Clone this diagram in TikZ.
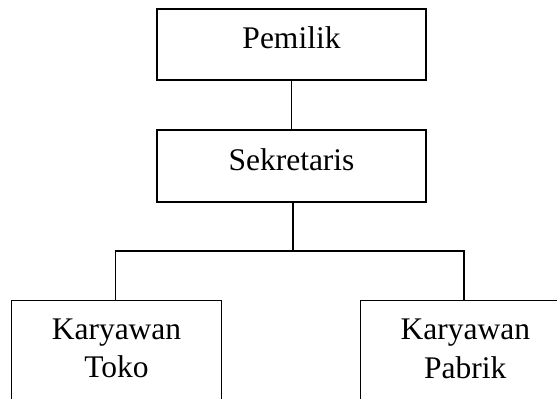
\documentclass[tikz,border=0pt]{standalone}
\usepackage{fontspec}
\setmainfont{Liberation Serif}
\begin{document}
\begin{tikzpicture}[x=1pt,y=-1pt,
  box/.style={draw=black,line width=1.3pt,rectangle,inner sep=0pt},
  lbl/.style={anchor=base,inner sep=0pt,align=center,font=\fontsize{31.5}{38.4}\selectfont},
  conn/.style={draw=black,line width=1.2pt}]
\useasboundingbox (0,0) rectangle (557,399);
\clip (0,0) rectangle (557,399);
\node[box,minimum width=269pt,minimum height=71pt] (pem) at (291.5,44.5) {};
\node[lbl] (pemt) at (291.5,48.3) {Pemilik};
\node[box,minimum width=269pt,minimum height=72pt] (sek) at (291.5,166) {};
\node[lbl] (sekt) at (291.5,170) {Sekretaris};
\node[box,minimum width=209.5pt,minimum height=140pt] (toko) at (116.5,370.7) {};
\node[lbl] (tokot) at (116.5,377.7) {Karyawan\\Toko};
\node[box,minimum width=209.5pt,minimum height=140pt] (pabrik) at (465.3,370.7) {};
\node[lbl] (pabrikt) at (465.3,378.3) {Karyawan\\Pabrik};
\coordinate (j) at (293,251);
\draw[conn] (pem.south) -- (sek.north);
\draw[conn] ([xshift=1.5pt]sek.south) -- (j);
\draw[conn] ([xshift=-1.2pt]toko.north) |- (j) -| ([xshift=-1.3pt]pabrik.north);
\end{tikzpicture}
\end{document}
